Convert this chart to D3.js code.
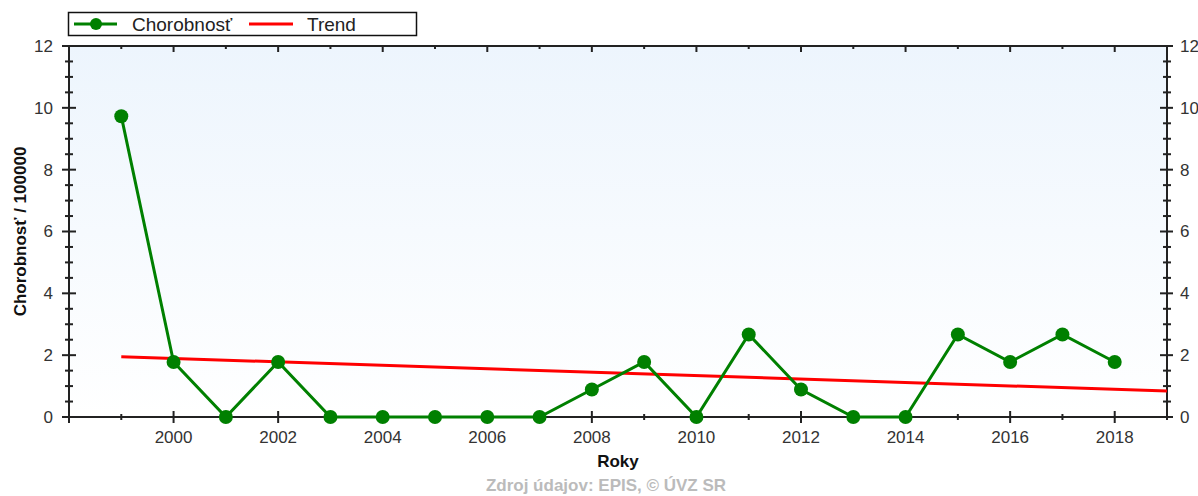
<!DOCTYPE html>
<html>
<head>
<meta charset="utf-8">
<script src="https://cdn.jsdelivr.net/npm/d3@7"></script>
<style>
  body { margin: 0; background: #fff; }
  svg text { font-family: "Liberation Sans", Arial, sans-serif; }
</style>
</head>
<body>
<div id="chart"></div>
<script>
// data
var years = [1999, 2000, 2001, 2002, 2003, 2004, 2005, 2006, 2007, 2008, 2009,
             2010, 2011, 2012, 2013, 2014, 2015, 2016, 2017, 2018];
var chorobnost = [9.73, 1.78, 0, 1.78, 0, 0, 0, 0, 0, 0.89, 1.78,
                  0, 2.67, 0.89, 0, 0, 2.67, 1.78, 2.67, 1.78];
var trendYears = [1999, 2019];
var trendValues = [1.95, 0.84];
var yTicks = [0, 2, 4, 6, 8, 10, 12];
var xLabelYears = [2000, 2002, 2004, 2006, 2008, 2010, 2012, 2014, 2016, 2018];

var width = 1198, height = 496;
var pLeft = 69, pRight = 1167, pTop = 46, pBottom = 417;

var svg = d3.select("#chart").append("svg")
  .attr("width", width)
  .attr("height", height);

var x = d3.scaleLinear().domain([1998, 2019]).range([pLeft, pRight]);
var y = d3.scaleLinear().domain([0, 12]).range([pBottom, pTop]);

// background gradient of the plot area
var grad = svg.append("defs").append("linearGradient")
  .attr("id", "bg").attr("x1", 0).attr("y1", 0).attr("x2", 0).attr("y2", 1);
grad.append("stop").attr("offset", "0%").attr("stop-color", "#edf5fd");
grad.append("stop").attr("offset", "100%").attr("stop-color", "#ffffff");

svg.append("rect")
  .attr("x", pLeft).attr("y", pTop)
  .attr("width", pRight - pLeft).attr("height", pBottom - pTop)
  .attr("fill", "url(#bg)");

var allYears = d3.range(1998, 2020);
var minorY = d3.range(0, 12.01, 0.5).filter(function(d) { return d % 2 != 0; });

// axes: frame lines
var axisColor = "#222";
var ax = svg.append("g").attr("stroke", axisColor).attr("stroke-width", 2);
ax.append("line").attr("x1", pLeft).attr("x2", pRight).attr("y1", pBottom).attr("y2", pBottom);
ax.append("line").attr("x1", pLeft).attr("x2", pRight).attr("y1", pTop).attr("y2", pTop);
ax.append("line").attr("x1", pLeft).attr("x2", pLeft).attr("y1", pTop).attr("y2", pBottom);
ax.append("line").attr("x1", pRight).attr("x2", pRight).attr("y1", pTop).attr("y2", pBottom);

// x ticks (bottom crosses axis, top points inward)
allYears.forEach(function(yr) {
  var major = yr % 2 == 0;
  ax.append("line").attr("x1", x(yr)).attr("x2", x(yr))
    .attr("y1", pBottom - (major ? 6 : 3)).attr("y2", pBottom + (major ? 6 : 3));
  ax.append("line").attr("x1", x(yr)).attr("x2", x(yr))
    .attr("y1", pTop).attr("y2", pTop + (major ? 6 : 3));
});

// y ticks on both sides
yTicks.forEach(function(v) {
  ax.append("line").attr("x1", pLeft - 7).attr("x2", pLeft + 7).attr("y1", y(v)).attr("y2", y(v));
  ax.append("line").attr("x1", pRight - 7).attr("x2", pRight + 6).attr("y1", y(v)).attr("y2", y(v));
});
minorY.forEach(function(v) {
  ax.append("line").attr("x1", pLeft - 4).attr("x2", pLeft + 4).attr("y1", y(v)).attr("y2", y(v));
  ax.append("line").attr("x1", pRight - 4).attr("x2", pRight + 4).attr("y1", y(v)).attr("y2", y(v));
});

// tick labels
var labelColor = "#333";
svg.selectAll(".ylab").data(yTicks).enter().append("text")
  .attr("x", pLeft - 16).attr("y", function(d) { return y(d); })
  .attr("dy", "0.35em").attr("text-anchor", "end")
  .attr("font-size", 17).attr("fill", labelColor)
  .text(function(d) { return d; });
svg.selectAll(".ylab2").data(yTicks).enter().append("text")
  .attr("x", pRight + 13).attr("y", function(d) { return y(d); })
  .attr("dy", "0.35em").attr("text-anchor", "start")
  .attr("font-size", 17).attr("fill", labelColor)
  .text(function(d) { return d; });
svg.selectAll(".xlab").data(xLabelYears).enter().append("text")
  .attr("x", function(d) { return x(d); }).attr("y", pBottom + 26)
  .attr("text-anchor", "middle")
  .attr("font-size", 17).attr("fill", labelColor)
  .text(function(d) { return d; });

// axis titles
svg.append("text")
  .attr("transform", "translate(26," + ((pTop + pBottom) / 2) + ") rotate(-90)")
  .attr("text-anchor", "middle")
  .attr("font-size", 17).attr("font-weight", "bold").attr("fill", "#111")
  .text("Chorobnosť / 100000");
svg.append("text")
  .attr("x", (pLeft + pRight) / 2).attr("y", pBottom + 50)
  .attr("text-anchor", "middle")
  .attr("font-size", 17).attr("font-weight", "bold").attr("fill", "#111")
  .text("Roky");
svg.append("text")
  .attr("x", 606).attr("y", 491)
  .attr("text-anchor", "middle")
  .attr("font-size", 17).attr("font-weight", "bold").attr("fill", "#bbbbbb")
  .text("Zdroj údajov: EPIS, © ÚVZ SR");

// trend line
var line = d3.line()
  .x(function(d) { return x(d[0]); })
  .y(function(d) { return y(d[1]); });

svg.append("path")
  .datum(d3.zip(trendYears, trendValues))
  .attr("d", line)
  .attr("fill", "none").attr("stroke", "#ff0000").attr("stroke-width", 3);

// data series
var green = "#008000";
svg.append("path")
  .datum(d3.zip(years, chorobnost))
  .attr("d", line)
  .attr("fill", "none").attr("stroke", green).attr("stroke-width", 3);

svg.selectAll(".point").data(d3.zip(years, chorobnost)).enter().append("circle")
  .attr("cx", function(d) { return x(d[0]); })
  .attr("cy", function(d) { return y(d[1]); })
  .attr("r", 7).attr("fill", green);

// legend
var lg = svg.append("g");
lg.append("rect").attr("x", 68.5).attr("y", 12.5).attr("width", 348).attr("height", 23)
  .attr("fill", "#fff").attr("stroke", "#111").attr("stroke-width", 1.5);
lg.append("line").attr("x1", 74).attr("x2", 117).attr("y1", 24).attr("y2", 24)
  .attr("stroke", green).attr("stroke-width", 3);
lg.append("circle").attr("cx", 96).attr("cy", 24).attr("r", 6).attr("fill", green);
lg.append("text").attr("x", 132).attr("y", 24).attr("dy", "0.35em")
  .attr("font-size", 19).attr("fill", "#222").text("Chorobnosť");
lg.append("line").attr("x1", 249).attr("x2", 293).attr("y1", 24).attr("y2", 24)
  .attr("stroke", "#ff0000").attr("stroke-width", 3);
lg.append("text").attr("x", 307).attr("y", 24).attr("dy", "0.35em")
  .attr("font-size", 19).attr("fill", "#222").text("Trend");
</script>
</body>
</html>
